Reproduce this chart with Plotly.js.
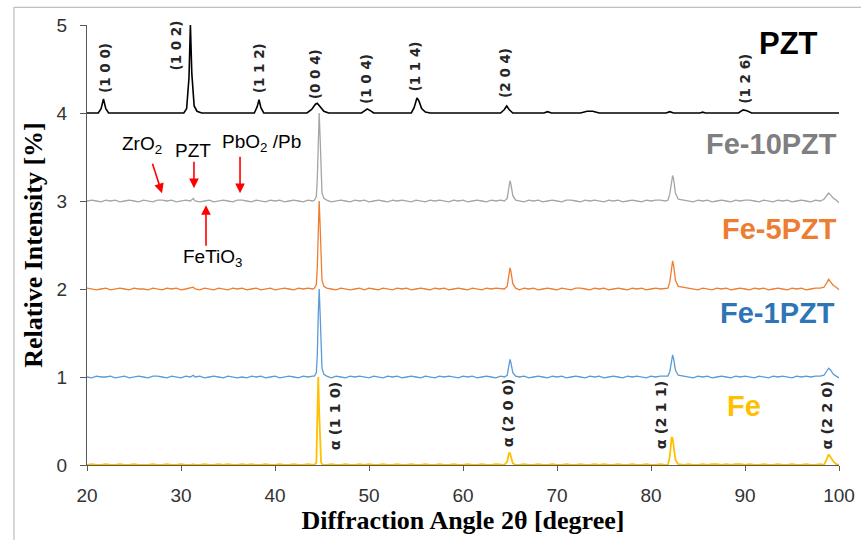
<!DOCTYPE html>
<html>
<head>
<meta charset="utf-8">
<script src="https://cdn.plot.ly/plotly-3.0.1.min.js"></script>
<style>html,body{margin:0;padding:0;background:#fff;}#chart{width:861px;height:540px;}</style>
</head>
<body>
<div id="chart"></div>
<script>
// Diffraction angle grid shared by the measured Fe-based patterns
const angle = [20,20.5,21,21.5,22,22.5,23,23.5,24,24.5,25,25.5,26,26.5,27,27.5,28,28.5,29,29.5,30,30.5,31,31.3,31.5,32,32.5,33,33.5,34,34.5,35,35.5,36,36.5,37,37.5,38,38.5,39,39.5,40,40.5,41,41.5,42,42.5,43,43.5,44,
44.2,44.4,44.5,44.6,44.7,44.8,44.9,45,45.2,45.5,
46,46.5,47,47.5,48,48.5,49,49.5,50,50.5,51,51.5,52,52.5,53,53.5,54,54.5,55,55.5,56,56.5,57,57.5,58,58.5,59,59.5,60,60.5,61,61.5,62,62.5,63,63.5,64,
64.4,64.7,64.9,65,65.1,65.3,65.6,
66,66.5,67,67.5,68,68.5,69,69.5,70,70.5,71,71.5,72,72.5,73,73.5,74,74.5,75,75.5,76,76.5,77,77.5,78,78.5,79,79.5,80,80.5,81,81.5,
81.8,82,82.2,82.3,82.4,82.6,82.9,
83.5,84,84.5,85,85.5,86,86.5,87,87.5,88,88.5,89,89.5,90,90.5,91,91.5,92,92.5,93,93.5,94,94.5,95,95.5,96,96.5,97,97.5,98,
98.4,98.7,98.9,99.1,99.4,99.7,100];

// Normalised intensities (before vertical stacking)
const fe10PZT = [0,.01,0,-.01,.01,0,.01,-.01,0,.01, 0,-.01,.01,0,-.01,.01,.01,0,.01,-.01, 0,.01,0,.03,0,-.01,0,.01,-.01,0, .01,0,-.01,.01,.01,0,-.01,.01,0,-.01, .01,0,.01,-.01,0,.01,0,-.01,.01,0,
.01,.05,.25,.7,1,.72,.3,.09,.03,.01,
-.01,0,.01,0,-.01,.01,0,.01,-.01,0, .01,0,-.01,.01,0,.01,0,-.01,.01,0, -.01,.01,0,.01,0,-.01,.01,0,.01,-.01, 0,.01,0,-.01,.01,0,.01,
0,.03,.15,.23,.19,.06,.01,
0,-.01,.01,0,.01,-.01,0,.01,0,-.01, .01,.01,0,-.01,.01,0,.01,0,-.01,.01, 0,.01,-.01,0,.01,0,-.01,.01,0,.01, .01,0,
.01,.08,.25,.29,.25,.09,.02,
.01,0,-.01,.01,0,.01,-.01,0,.01,0, -.01,.01,0,.01,.01,0,-.01,.01,0,-.01, .01,0,.01,-.01,0,.01,0,-.01,.01,0,
.02,.06,.09,.07,.03,.01,-.02];

const fe5PZT = [.01,0,-.01,0,.01,-.01,0,.01,0,-.01, .01,0,0,-.01,.01,0,-.01,.01,0,.01, -.01,0,.01,.02,0,-.01,.01,0,-.01,.01, 0,-.01,.01,0,.01,-.01,0,.01,-.01,0, .01,-.01,0,.01,0,-.01,.01,0,.01,0,
.01,.05,.25,.7,1,.72,.3,.1,.03,.01,
0,-.01,.01,0,-.01,0,.01,-.01,.01,0, -.01,.01,0,-.01,.01,0,.01,-.01,0,.01, 0,-.01,.01,0,.01,-.01,0,.01,0,-.01, .01,0,-.01,.01,0,.01,0,
0,.03,.16,.24,.2,.06,.01,
-.01,.01,0,.01,-.01,0,.01,0,-.01,.01, 0,-.01,.01,.01,0,-.01,.01,0,.01,-.01, 0,.01,0,-.01,.01,0,.01,-.01,0,.01, 0,.01,
.01,.08,.27,.32,.27,.1,.03,
.02,.01,0,-.01,.01,0,-.01,.01,0,.01, -.01,0,.01,0,-.01,.01,0,.01,-.01,0, .01,0,-.01,.01,0,.01,-.01,0,.01,.01,
.02,.07,.11,.08,.04,.02,-.01];

const fe1PZT = [0,-.01,.01,0,0,.01,-.01,0,.01,-.01, 0,.01,0,-.01,.01,.01,0,-.01,.01,0, -.01,.01,0,.02,0,.01,-.01,0,.01,0, -.01,.01,0,-.01,0,-.01,.01,0,.01,-.01, 0,.01,-.01,0,.01,0,-.01,.01,0,.01,
.01,.05,.25,.7,1,.72,.3,.1,.03,.01,
-.01,.01,0,-.01,.01,0,.01,0,-.01,.01, 0,-.01,.01,0,.01,-.01,0,.01,0,-.01, .01,0,-.01,.01,0,.01,0,-.01,.01,0, .01,-.01,0,.01,0,-.01,.01,
0,.02,.13,.2,.16,.05,.01,
0,.01,-.01,0,.01,0,-.01,.01,0,.01, -.01,0,.01,0,-.01,.01,0,.01,-.01,0, .01,0,-.01,.01,0,.01,0,-.01,.01,0, .01,.01,
.01,.06,.2,.25,.21,.08,.02,
.01,0,-.01,.01,0,.01,-.01,0,.01,0, -.01,.01,0,.01,0,-.01,.01,0,-.01,.01, 0,.01,0,-.01,.01,0,.01,0,.01,.01,
.02,.06,.1,.08,.03,.01,-.01];

const fePure = [0,.01,0,0,.01,0,0,.01,0,0, .01,0,0,0,.01,0,0,.01,0,0, .01,0,0,.01,0,0,.01,0,0,.01, 0,.01,0,0,.01,0,.01,0,0,.01, 0,0,.01,0,0,.01,0,0,.01,0,
0,.03,.55,1,.6,.15,.03,.01,0,0,
.01,0,0,.01,0,0,.01,0,.01,0, 0,.01,0,0,.01,0,0,.01,0,0, .01,0,0,.01,0,0,.01,0,0,.01, 0,0,.01,0,0,.01,0,
0,.04,.14,.13,.08,.02,0,
0,.01,0,0,.01,0,0,.01,0,0, .01,0,0,.01,0,0,.01,0,.01,0, 0,.01,0,0,.01,0,0,.01,0,0, .01,0,
0,.1,.32,.3,.22,.06,.01,
0,.01,0,0,.01,0,.01,.01,0,.01, 0,.01,.01,0,.01,0,0,.01,0,0, .01,0,0,.01,0,0,.01,0,0,.01,
0,.07,.12,.09,.04,.01,0];

// PZT reference pattern (smooth)
const pztAngle = [20,21.2,21.5,21.75,22,22.3,30.3,30.6,30.85,31,31.15,31.4,31.7,32.2,37.8,38.1,38.3,38.5,38.8,43.4,43.9,44.3,44.5,44.8,45.2,45.7,49.2,49.6,49.8,50.1,50.5,54.5,54.8,55.1,55.3,55.6,56,56.5,64,64.4,64.65,64.9,65.3,68.6,69,69.4,72.5,73.2,73.8,74.5,81.6,82,82.4,85.2,85.5,85.8,89.3,89.8,90.2,90.7,100];
const pztIntensity = [0,0,.05,.16,.05,0,0,.05,.4,1,.45,.08,.02,0,0,.07,.15,.06,0,0,.04,.1,.11,.07,.02,0,0,.03,.045,.03,0,0,.06,.17,.14,.05,.01,0,0,.04,.08,.04,0,0,.015,0,0,.02,.02,0,0,.015,0,0,.01,0,0,.035,.025,0,0];

const seriesNames = ['Fe','Fe-1PZT','Fe-5PZT','Fe-10PZT','PZT'];
const offsets = [0,1,2,3,4];
const xTicks = [20,30,40,50,60,70,80,90,100];
const yTicks = [0,1,2,3,4,5];

// Miller index labels
const pztPlanes = ['(1 0 0)','(1 0 2)','(1 1 2)','(0 0 4)','(1 0 4)','(1 1 4)','(2 0 4)','(1 2 6)'];
const pztPlaneX = [21.9,29.5,38.3,44.25,49.6,54.9,64.4,90.0];
const pztPlaneY = [4.51,4.77,4.51,4.44,4.39,4.53,4.46,4.39];
const fePlanes = ['α (1 1 0)','α (2 0 0)','α (2 1 1)','α (2 2 0)'];
const fePlaneX = [46.4,64.8,81.0,98.7];
const fePlaneY = [0.556,0.59,0.57,0.57];

// Phase markers (red)
const phaseText = ['ZrO<sub>2</sub>','PZT','PbO<sub>2</sub> /Pb','FeTiO<sub>3</sub>'];
const phaseTextX = [25.85,31.28,38.6,33.4];
const phaseTextY = [3.634,3.577,3.657,2.35];
const phaseArrowX = [27.98,31.38,36.28,32.66];
const phaseArrowY = [3.089,3.146,3.089,2.953];

const colors = {Fe:'#FFC000','Fe-1PZT':'#5B9BD5','Fe-5PZT':'#ED7D31','Fe-10PZT':'#A5A5A5',PZT:'#000000'};
const labelColors = {Fe:'#FFC000','Fe-1PZT':'#2E75B6','Fe-5PZT':'#ED7D31','Fe-10PZT':'#7F7F7F',PZT:'#000000'};

const measured = [fePure, fe1PZT, fe5PZT, fe10PZT];
const traces = [];
measured.forEach((arr,i)=>{
  traces.push({x: angle, y: arr.map(v=>v+offsets[i]), type:'scatter', mode:'lines',
    name: seriesNames[i], line:{color: colors[seriesNames[i]], width: i===0?1.8:1.3}, hoverinfo:'skip'});
});
traces.push({x: pztAngle, y: pztIntensity.map(v=>v+offsets[4]), type:'scatter', mode:'lines',
  name:'PZT', line:{color:'#000', width:1.6}, hoverinfo:'skip'});

const ann = [];
pztPlanes.forEach((t,i)=>ann.push({x:pztPlaneX[i], y:pztPlaneY[i], xref:'x', yref:'y', text:'<b>'+t+'</b>', textangle:-90, showarrow:false,
  font:{family:'DejaVu Sans', size:13.5, color:'#262626'}}));
fePlanes.forEach((t,i)=>ann.push({x:fePlaneX[i], y:fePlaneY[i], xref:'x', yref:'y', text:'<b>'+t+'</b>', textangle:-90, showarrow:false,
  font:{family:'DejaVu Sans', size:14.5, color:'#262626'}}));
// series labels
const labX = [89.9, 99.8, 100, 100, 98];
const labY = [0.67, 1.726, 2.68, 3.645, 4.79];
const labAnchor = ['center','right','right','right','right'];
seriesNames.forEach((n,i)=>ann.push({x:labX[i], y:labY[i], xref:'x', yref:'y', text:'<b>'+n+'</b>', showarrow:false,
  xanchor:labAnchor[i], font:{family:'Liberation Sans', size: n==='PZT'?31:29, color: labelColors[n]}}));
// phase texts and arrows
phaseText.forEach((t,i)=>ann.push({x:phaseTextX[i], y:phaseTextY[i], xref:'x', yref:'y', text:t, showarrow:false,
  font:{family:'Liberation Sans', size:19, color:'#000'}}));
const arrowAx = [-10,0,0,0];
const arrowAy = [-31,-28,-38,42];
phaseArrowX.forEach((x,i)=>ann.push({x:x, y:phaseArrowY[i], xref:'x', yref:'y', text:'', showarrow:true,
  ax:arrowAx[i], ay:arrowAy[i], arrowcolor:'#FF0000', arrowwidth:1.6, arrowhead:2, arrowsize:1.2, standoff:0}));

const layout = {
  width:861, height:540,
  margin:{l:87, r:22, t:25, b:75},
  paper_bgcolor:'#fff', plot_bgcolor:'#fff',
  showlegend:false,
  xaxis:{range:[20,100], tickvals:xTicks, ticktext:xTicks.map(String), showgrid:false, zeroline:false,
    showline:true, linecolor:'#595959', linewidth:1, ticks:'outside', ticklen:5, tickcolor:'#595959',
    layer:'below traces', ticklabelstandoff:8, tickfont:{family:'Liberation Sans', size:19, color:'#333'},
    title:{text:'<b>Diffraction Angle 2θ [degree]</b>', font:{family:'Liberation Serif', size:26, color:'#000'}, standoff:4}},
  yaxis:{range:[0,5], tickvals:yTicks, ticktext:yTicks.map(String), showgrid:false, zeroline:false,
    showline:true, linecolor:'#595959', linewidth:1, ticks:'outside', ticklen:6, tickcolor:'#595959',
    layer:'below traces', ticklabelstandoff:9, tickfont:{family:'Liberation Sans', size:19, color:'#333'},
    title:{text:'<b>Relative Intensity [%]</b>', font:{family:'Liberation Serif', size:26, color:'#000'}, standoff:6}},
  annotations: ann,
  shapes:[
    {type:'line', xref:'paper', yref:'paper', x0:-0.0971, x1:1.03, y0:1.0402, y1:1.0402, line:{color:'#b0b0b0', width:1}},
    {type:'line', xref:'paper', yref:'paper', x0:-0.0971, x1:-0.0971, y0:1.0402, y1:-0.18, line:{color:'#b0b0b0', width:1}}
  ]
};

Plotly.newPlot('chart', traces, layout, {staticPlot:true, displayModeBar:false});
</script>
</body>
</html>
